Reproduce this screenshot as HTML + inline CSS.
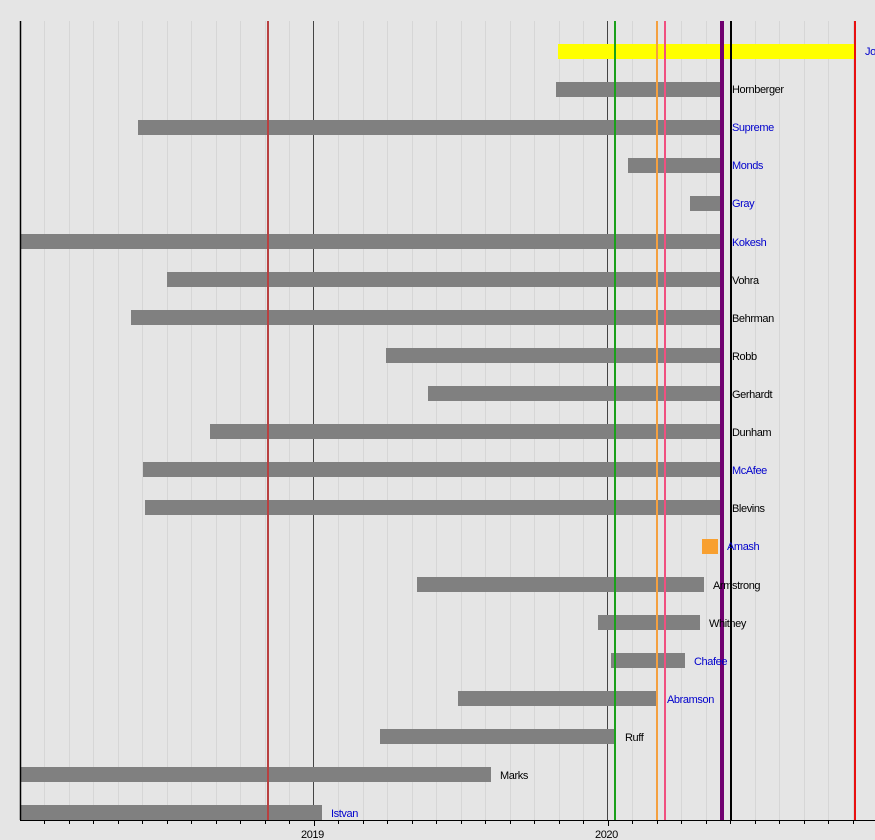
<!DOCTYPE html>
<html><head><meta charset="utf-8"><style>
html,body{margin:0;padding:0;background:#e5e5e5;}
svg{display:block;font-family:"Liberation Sans",sans-serif;}
</style></head><body>
<svg id="s" width="875" height="840" viewBox="0 0 875 840" xmlns="http://www.w3.org/2000/svg">
<rect width="875" height="840" fill="#e5e5e5"/>
<g id="grid"></g>
<line x1="313.5" y1="21" x2="313.5" y2="820" stroke="#444" stroke-width="1"/>
<line x1="607.5" y1="21" x2="607.5" y2="820" stroke="#444" stroke-width="1"/>
<g fill="#808080">
<rect x="556" y="82" width="165" height="15"/>
<rect x="138" y="120" width="583" height="15"/>
<rect x="628" y="158" width="93" height="15"/>
<rect x="690" y="196" width="31" height="15"/>
<rect x="20" y="234" width="701" height="15"/>
<rect x="167" y="272" width="554" height="15"/>
<rect x="131" y="310" width="590" height="15"/>
<rect x="386" y="348" width="335" height="15"/>
<rect x="428" y="386" width="293" height="15"/>
<rect x="210" y="424" width="511" height="15"/>
<rect x="143" y="462" width="578" height="15"/>
<rect x="145" y="500" width="576" height="15"/>
<rect x="417" y="577" width="287" height="15"/>
<rect x="598" y="615" width="102" height="15"/>
<rect x="611" y="653" width="74" height="15"/>
<rect x="458" y="691" width="198" height="15"/>
<rect x="380" y="729" width="236" height="15"/>
<rect x="20" y="767" width="471" height="15"/>
<rect x="20" y="805" width="302" height="15"/>
</g>
<rect x="558" y="44" width="297" height="15" fill="#ffff00"/>
<rect x="702" y="539" width="16" height="15" fill="#f8a030"/>
<line x1="268" y1="21" x2="268" y2="820" stroke="#b84040" stroke-width="2"/>
<line x1="615" y1="21" x2="615" y2="820" stroke="#1aa01a" stroke-width="2"/>
<line x1="657" y1="21" x2="657" y2="820" stroke="#f4a040" stroke-width="2"/>
<line x1="665" y1="21" x2="665" y2="820" stroke="#f05080" stroke-width="2"/>
<line x1="722" y1="21" x2="722" y2="820" stroke="#700070" stroke-width="4"/>
<line x1="731" y1="21" x2="731" y2="820" stroke="#000" stroke-width="2"/>
<line x1="855" y1="21" x2="855" y2="820" stroke="#e81010" stroke-width="2"/>
<line x1="20.5" y1="21" x2="20.5" y2="820" stroke="#000" stroke-width="1.5"/>
<line x1="20" y1="820.5" x2="875" y2="820.5" stroke="#000" stroke-width="1"/>
<g id="ticks"></g>
<g font-size="11" letter-spacing="-0.4">
<text x="865" y="55" fill="#0000cc">Jo</text>
<text x="732" y="93" fill="#000">Hornberger</text>
<text x="732" y="131" fill="#0000cc">Supreme</text>
<text x="732" y="169" fill="#0000cc">Monds</text>
<text x="732" y="207" fill="#0000cc">Gray</text>
<text x="732" y="246" fill="#0000cc">Kokesh</text>
<text x="732" y="284" fill="#000">Vohra</text>
<text x="732" y="322" fill="#000">Behrman</text>
<text x="732" y="360" fill="#000">Robb</text>
<text x="732" y="398" fill="#000">Gerhardt</text>
<text x="732" y="436" fill="#000">Dunham</text>
<text x="732" y="474" fill="#0000cc">McAfee</text>
<text x="732" y="512" fill="#000">Blevins</text>
<text x="727" y="550" fill="#0000cc">Amash</text>
<text x="713" y="589" fill="#000">Armstrong</text>
<text x="709" y="627" fill="#000">Whitney</text>
<text x="694" y="665" fill="#0000cc">Chafee</text>
<text x="667" y="703" fill="#0000cc">Abramson</text>
<text x="625" y="741" fill="#000">Ruff</text>
<text x="500" y="779" fill="#000">Marks</text>
<text x="331" y="817" fill="#0000cc">Istvan</text>
<text x="301" y="838" fill="#000">2019</text>
<text x="595" y="838" fill="#000">2020</text>
</g>
</svg>
<script>
var g=document.getElementById('grid'),t=document.getElementById('ticks'),ns='http://www.w3.org/2000/svg';
for(var k=1;k<36;k++){var x=Math.round(19.5+24.5*k)+0.5;
if(k%12!=0){var l=document.createElementNS(ns,'line');l.setAttribute('x1',x);l.setAttribute('x2',x);l.setAttribute('y1',21);l.setAttribute('y2',820);l.setAttribute('stroke','#d6d6d6');l.setAttribute('stroke-width','1');g.appendChild(l);}
var m=document.createElementNS(ns,'line');m.setAttribute('x1',x);m.setAttribute('x2',x);m.setAttribute('y1',820);m.setAttribute('y2',(k%12==0)?826:824);m.setAttribute('stroke','#000');m.setAttribute('stroke-width','1');t.appendChild(m);}
</script>
</body></html>
